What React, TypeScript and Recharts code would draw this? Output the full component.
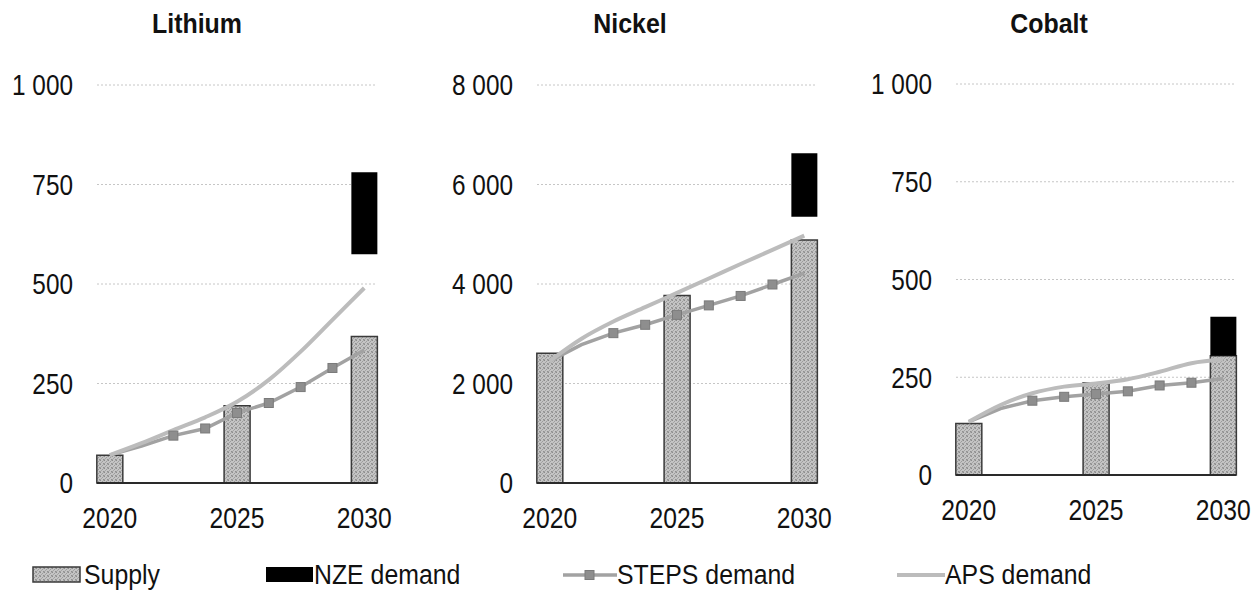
import { ComposedChart, Bar, Line, XAxis, YAxis, CartesianGrid } from 'recharts'

const FONT = "'Liberation Sans', Arial, sans-serif"

// x positions of the demand points (9 evenly spread points per decade)
const years = [2020, 2021.25, 2022.5, 2023.75, 2025, 2026.25, 2027.5, 2028.75, 2030]
const barYears = [2020, 2025, 2030]
const yearTicks = [2020, 2025, 2030]

const lithiumSupply = [70, 194, 368]
const lithiumNze = [575, 781]
const lithiumSteps = [70, 93, 119, 137, 176, 201, 241, 289, 334]
const lithiumAps = [70, 100, 133, 165, 204, 259, 330, 410, 490]
const lithiumTicks = [0, 250, 500, 750, 1000]

const nickelSupply = [2610, 3767, 4885]
const nickelNze = [5353, 6626]
const nickelSteps = [2450, 2780, 3012, 3180, 3380, 3570, 3760, 3990, 4217]
const nickelAps = [2450, 2900, 3245, 3534, 3821, 4110, 4403, 4685, 4972]
const nickelTicks = [0, 2000, 4000, 6000, 8000]

const cobaltSupply = [132, 236, 305]
const cobaltNze = [305, 405]
const cobaltSteps = [136, 170, 190, 200, 207, 214, 229, 236, 247]
const cobaltAps = [136, 179, 209, 226, 234, 245, 264, 286, 296]
const cobaltTicks = [0, 250, 500, 750, 1000]

const titles = ['Lithium', 'Nickel', 'Cobalt']
const legendNames = ['Supply', 'NZE demand', 'STEPS demand', 'APS demand']

function buildRows(supply: number[], nze: number[], steps: number[], aps: number[]) {
  return years.map((year, i) => {
    const row: any = { year, steps: steps[i], aps: aps[i] }
    const b = barYears.indexOf(year)
    if (b >= 0) row.supply = supply[b]
    if (year === 2030) {
      row.gap = nze[0] - supply[2]
      row.nze = nze[1] - nze[0]
    }
    return row
  })
}

const fmt = (v: number) => String(v).replace(/\B(?=(\d{3})+(?!\d))/g, ' ')

// Arial-like text squeezed horizontally, the source uses a narrow face
function NarrowText({ x, y, anchor, size, weight, sx, dy, children }: any) {
  return (
    <text
      transform={`translate(${x},${y}) scale(${sx},1)`}
      textAnchor={anchor}
      dy={dy}
      fontSize={size}
      fontWeight={weight}
      fontFamily={FONT}
      fill="#111"
    >
      {children}
    </text>
  )
}

const xTick = (props: any) => (
  <NarrowText x={props.x} y={props.y} anchor="middle" size={29} sx={0.85} dy="0.72em">
    {props.payload.value}
  </NarrowText>
)

const yTick = (props: any) => (
  <NarrowText x={props.x} y={props.y} anchor="end" size={29} sx={0.84} dy="0.36em">
    {fmt(props.payload.value)}
  </NarrowText>
)

const squareDot = (props: any) => {
  const { cx, cy, index } = props
  if (index < 2 || index > 7) return <g key={index} />
  return <rect key={index} x={cx - 4.5} y={cy - 4.5} width={9} height={9} fill="#8e8e8e" stroke="#7a7a7a" strokeWidth={1} />
}

function Pattern({ id }: { id: string }) {
  return (
    <pattern id={id} width="4" height="4" patternUnits="userSpaceOnUse">
      <rect width="4" height="4" fill="#c4c4c4" />
      <rect width="1" height="1" fill="#8c8c8c" />
      <rect x="2" y="1" width="1" height="1" fill="#9c9c9c" />
      <rect x="1" y="2" width="1" height="1" fill="#a4a4a4" />
      <rect x="3" y="3" width="1" height="1" fill="#909090" />
      <rect x="3" y="0" width="1" height="1" fill="#a8a8a8" />
      <rect x="0" y="3" width="1" height="1" fill="#a0a0a0" />
    </pattern>
  )
}

interface PanelProps {
  id: string
  left: number
  top: number
  bottom: number
  max: number
  ticks: number[]
  rows: any[]
}

function Panel({ id, left, top, bottom, max, ticks, rows }: PanelProps) {
  return (
    <div style={{ position: 'absolute', left, top: 0 }}>
      <ComposedChart width={420} height={545} data={rows} margin={{ top, right: 43, left: 0, bottom }}>
        <defs>
          <Pattern id={`fill-${id}`} />
        </defs>
        <CartesianGrid vertical={false} stroke="#c6c6c6" strokeDasharray="2 2" />
        <XAxis
          dataKey="year"
          type="number"
          domain={[2019.5, 2030.5]}
          ticks={yearTicks}
          interval={0}
          height={50}
          tickSize={0}
          tickMargin={24}
          tickLine={false}
          axisLine={{ stroke: '#2a2a2a', strokeWidth: 2 }}
          tick={xTick}
        />
        <YAxis
          type="number"
          domain={[0, max]}
          ticks={ticks}
          interval={0}
          width={97}
          tickSize={0}
          tickMargin={24}
          tickLine={false}
          axisLine={false}
          tick={yTick}
        />
        <Bar dataKey="supply" stackId="s" barSize={26} fill={`url(#fill-${id})`} stroke="#3a3a3a" strokeWidth={1.5} isAnimationActive={false} />
        <Bar dataKey="gap" stackId="s" barSize={26} fill="transparent" isAnimationActive={false} />
        <Bar dataKey="nze" stackId="s" barSize={26} fill="#000" isAnimationActive={false} />
        <Line dataKey="steps" type="linear" stroke="#a2a2a2" strokeWidth={3.5} dot={squareDot} activeDot={false} isAnimationActive={false} />
        <Line dataKey="aps" type="monotone" stroke="#bcbcbc" strokeWidth={4} dot={false} activeDot={false} isAnimationActive={false} />
      </ComposedChart>
    </div>
  )
}

export default function App() {
  return (
    <div style={{ position: 'absolute', left: 0, top: 0, width: 1252, height: 590, overflow: 'hidden', background: '#fff' }}>
      <Panel id="li" left={0} top={85} bottom={12} max={1000} ticks={lithiumTicks} rows={buildRows(lithiumSupply, lithiumNze, lithiumSteps, lithiumAps)} />
      <Panel id="ni" left={440} top={85} bottom={12} max={8000} ticks={nickelTicks} rows={buildRows(nickelSupply, nickelNze, nickelSteps, nickelAps)} />
      <Panel id="co" left={859} top={84} bottom={20} max={1000} ticks={cobaltTicks} rows={buildRows(cobaltSupply, cobaltNze, cobaltSteps, cobaltAps)} />
      <svg width={1252} height={590} style={{ position: 'absolute', left: 0, top: 0, pointerEvents: 'none' }}>
        <defs>
          <Pattern id="fill-legend" />
        </defs>
        <NarrowText x={197} y={33} anchor="middle" size={28} weight="bold" sx={0.89}>{titles[0]}</NarrowText>
        <NarrowText x={630} y={33} anchor="middle" size={28} weight="bold" sx={0.89}>{titles[1]}</NarrowText>
        <NarrowText x={1049} y={33} anchor="middle" size={28} weight="bold" sx={0.89}>{titles[2]}</NarrowText>

        <rect x={33} y={567} width={47} height={15} fill="url(#fill-legend)" stroke="#3a3a3a" strokeWidth={1.5} />
        <NarrowText x={84} y={584} anchor="start" size={27} sx={0.92}>{legendNames[0]}</NarrowText>
        <rect x={266} y={567} width={47} height={15} fill="#000" />
        <NarrowText x={314} y={584} anchor="start" size={27} sx={0.92}>{legendNames[1]}</NarrowText>
        <line x1={563} x2={617} y1={575} y2={575} stroke="#a2a2a2" strokeWidth={3.5} />
        <rect x={585} y={570.5} width={9} height={9} fill="#8e8e8e" stroke="#7a7a7a" />
        <NarrowText x={617} y={584} anchor="start" size={27} sx={0.92}>{legendNames[2]}</NarrowText>
        <line x1={897} x2={945} y1={575} y2={575} stroke="#bcbcbc" strokeWidth={4} />
        <NarrowText x={945} y={584} anchor="start" size={27} sx={0.92}>{legendNames[3]}</NarrowText>
      </svg>
    </div>
  )
}
